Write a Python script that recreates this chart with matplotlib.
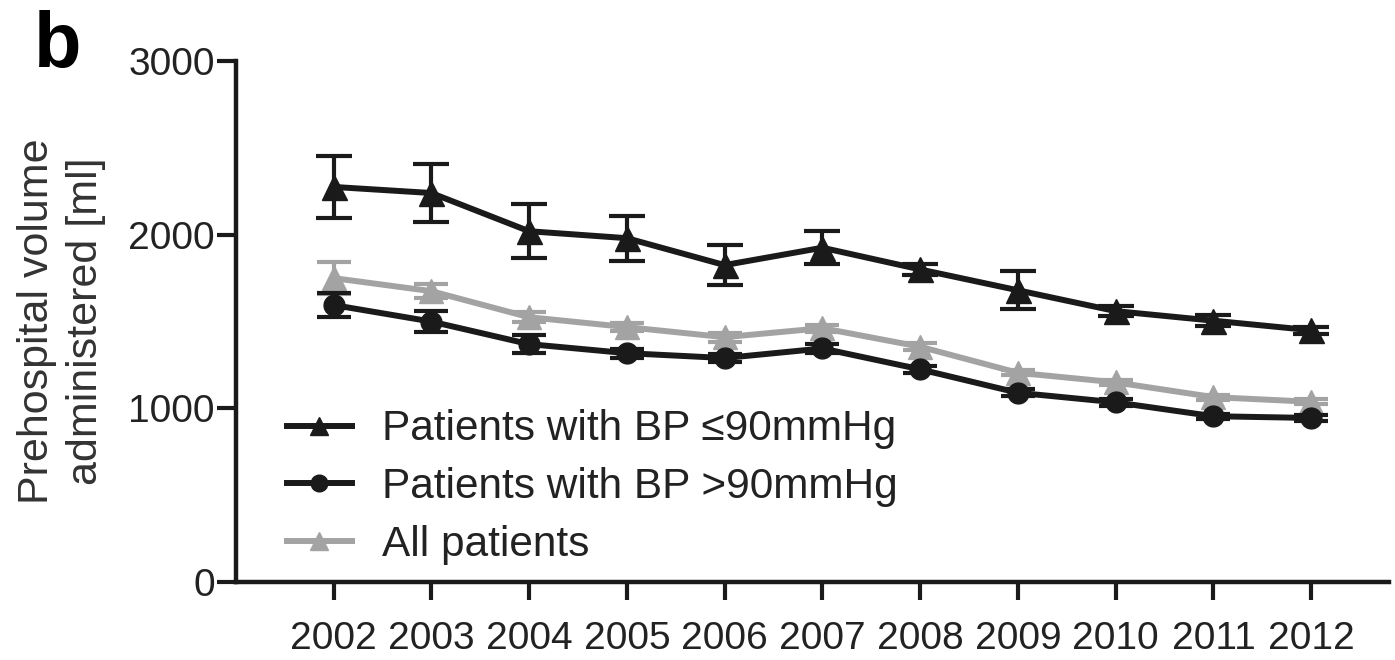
import matplotlib
matplotlib.use("Agg")
import matplotlib.pyplot as plt
from matplotlib.lines import Line2D

plt.rcParams['font.family'] = ['Liberation Sans', 'DejaVu Sans']

# donnees : volume prehospitalier moyen par annee (ml) et erreur standard
annees = [2002, 2003, 2004, 2005, 2006, 2007, 2008, 2009, 2010, 2011, 2012]
bp_bas = [2275, 2240, 2020, 1980, 1825, 1925, 1800, 1680, 1560, 1505, 1450]
bp_bas_err = [180, 165, 155, 130, 115, 95, 30, 110, 30, 30, 20]
bp_haut = [1595, 1500, 1370, 1318, 1290, 1345, 1225, 1090, 1035, 955, 945]
bp_haut_err = [70, 60, 50, 25, 25, 25, 20, 20, 20, 15, 15]
tous = [1750, 1675, 1525, 1468, 1410, 1462, 1355, 1205, 1150, 1065, 1038]
tous_err = [90, 40, 30, 25, 25, 20, 20, 15, 15, 15, 15]

labels = ["Patients with BP \u226490mmHg", "Patients with BP >90mmHg", "All patients"]
gris = "#a3a3a3"
noir = "#1a1a1a"

fig = plt.figure(figsize=(13.95, 6.6), dpi=100)
ax = fig.add_axes([0.169, 0.118, 0.827, 0.7896])

# serie "tous les patients" en gris, dessous
ax.errorbar(annees, tous, yerr=tous_err, color=gris, lw=4.3, marker="^", ms=17,
            capsize=12, capthick=3, elinewidth=3, zorder=2)
ax.errorbar(annees, bp_haut, yerr=bp_haut_err, color=noir, lw=4.3, marker="o", ms=15,
            capsize=12, capthick=3, elinewidth=3, zorder=3)
ax.errorbar(annees, bp_bas, yerr=bp_bas_err, color=noir, lw=4.3, marker="^", ms=18,
            capsize=13, capthick=3, elinewidth=3, zorder=4)

ax.set_xlim(2001, 2012.8)
ax.set_ylim(0, 3000)
ax.set_yticks([0, 1000, 2000, 3000])
ax.set_xticks(annees)
ax.set_xticklabels([str(a) for a in annees])

for s in ["top", "right"]:
    ax.spines[s].set_visible(False)
for s in ["left", "bottom"]:
    ax.spines[s].set_linewidth(3.2)
    ax.spines[s].set_color(noir)

ax.tick_params(axis="both", direction="out", width=3, color=noir, labelsize=28,
               labelcolor="#222222")
ax.tick_params(axis="x", length=13, pad=15)
ax.tick_params(axis="y", length=14, pad=1)

ax.set_ylabel("Prehospital volume\nadministered [ml]", fontsize=31, color="#333333",
              labelpad=16, linespacing=1.3)

# legende sans barres d'erreur
poignees = [Line2D([], [], color=noir, lw=4.3, marker="^", ms=13),
            Line2D([], [], color=noir, lw=4.3, marker="o", ms=12),
            Line2D([], [], color=gris, lw=4.3, marker="^", ms=13)]
leg = ax.legend(poignees, labels, loc="center left", bbox_to_anchor=(0.044, 0.182),
                frameon=False, fontsize=30.5, handlelength=1.55, handletextpad=0.7,
                labelspacing=0.42, borderaxespad=0, borderpad=0)
for t in leg.get_texts():
    t.set_color("#222222")

fig.text(0.024, 0.985, "b", fontsize=56, fontweight="bold", va="top", ha="left")

fig.savefig("out.png", dpi=100)
